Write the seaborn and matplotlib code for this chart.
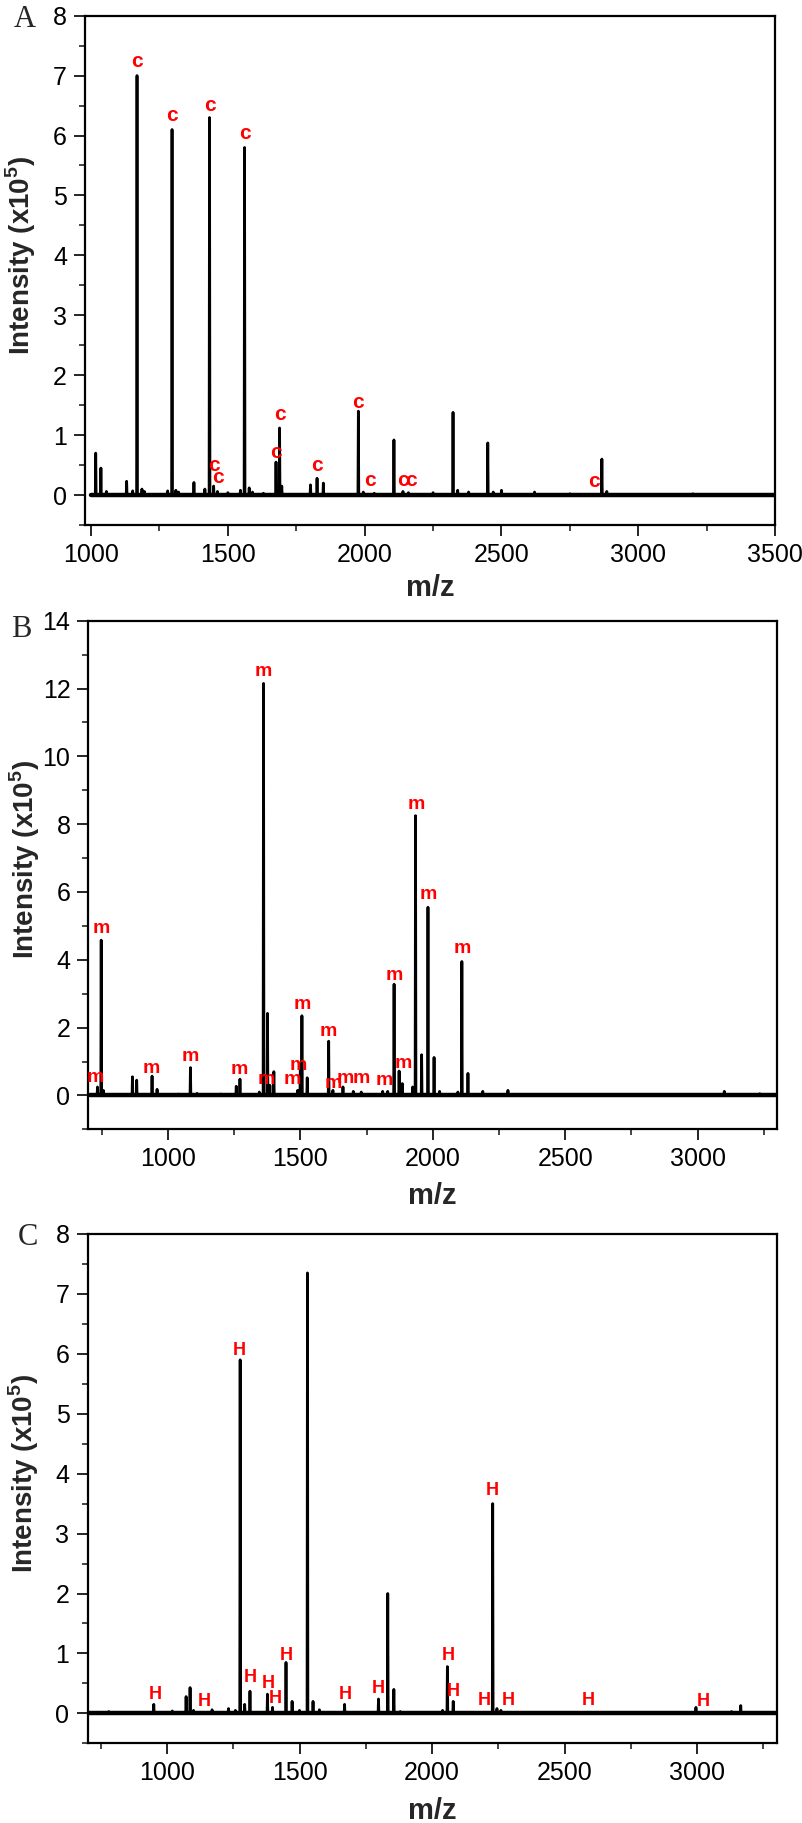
import seaborn as sns
import matplotlib.pyplot as plt
import pandas as pd
from matplotlib.ticker import MultipleLocator

# ---- data (m/z, intensity x1e5) ----
a_mz = [1017, 1036, 1056, 1130, 1152, 1168, 1186, 1195, 1280, 1296, 1310, 1320,
        1376, 1416, 1433, 1448, 1462, 1500, 1546, 1561, 1578, 1590, 1630, 1676,
        1689, 1697, 1802, 1826, 1849, 1977, 1995, 2035, 2107, 2140, 2160, 2250,
        2323, 2340, 2380, 2450, 2470, 2500, 2621, 2750, 2867, 2885, 3200]
a_int = [0.70, 0.45, 0.06, 0.23, 0.07, 7.00, 0.10, 0.06, 0.07, 6.10, 0.08, 0.05,
         0.21, 0.10, 6.30, 0.15, 0.06, 0.04, 0.08, 5.80, 0.12, 0.05, 0.03, 0.55,
         1.12, 0.15, 0.17, 0.28, 0.20, 1.40, 0.05, 0.03, 0.92, 0.06, 0.04, 0.04,
         1.38, 0.08, 0.05, 0.87, 0.05, 0.08, 0.05, 0.02, 0.60, 0.06, 0.02]
a_lab_mz = [1168, 1296, 1433, 1561, 1448, 1465, 1676, 1689, 1826, 1977, 2018,
            2141, 2169, 2837]
a_lab_y = [7.07, 6.17, 6.34, 5.87, 0.34, 0.13, 0.55, 1.18, 0.34, 1.39, 0.09,
           0.09, 0.09, 0.07]

b_mz = [734, 748, 756, 866, 882, 940, 959, 1040, 1085, 1110, 1200, 1258, 1272,
        1345, 1361, 1376, 1385, 1400, 1490, 1500, 1506, 1526, 1607, 1623, 1661,
        1700, 1730, 1811, 1830, 1854, 1873, 1885, 1924, 1935, 1958, 1982, 2005,
        2026, 2095, 2110, 2133, 2189, 2284, 3101, 3235]
b_int = [0.25, 4.58, 0.15, 0.55, 0.45, 0.57, 0.18, 0.04, 0.82, 0.06, 0.04, 0.27,
         0.48, 0.10, 12.15, 2.42, 0.30, 0.70, 0.15, 0.95, 2.35, 0.52, 1.60, 0.15,
         0.25, 0.12, 0.10, 0.12, 0.12, 3.28, 0.72, 0.35, 0.25, 8.25, 1.20, 5.55,
         1.12, 0.12, 0.10, 3.95, 0.65, 0.12, 0.15, 0.12, 0.05]
b_lab_mz = [725, 750, 938, 1085, 1270, 1361, 1370, 1471, 1493, 1506, 1607, 1623,
            1669, 1731, 1817, 1854, 1888, 1937, 1983, 2112]
b_lab_y = [0.28, 4.68, 0.54, 0.89, 0.52, 12.25, 0.23, 0.23, 0.62, 2.44, 1.63,
           0.10, 0.25, 0.25, 0.20, 3.30, 0.69, 8.33, 5.69, 4.07]

c_mz = [780, 950, 1020, 1072, 1087, 1100, 1170, 1232, 1258, 1276, 1293, 1313,
        1379, 1398, 1449, 1472, 1500, 1530, 1551, 1575, 1670, 1798, 1833, 1856,
        1880, 2040, 2058, 2080, 2229, 2245, 2260, 2996, 3130, 3165]
c_int = [0.03, 0.15, 0.04, 0.28, 0.43, 0.05, 0.06, 0.08, 0.05, 5.90, 0.15, 0.37,
         0.32, 0.10, 0.85, 0.20, 0.05, 7.35, 0.20, 0.06, 0.15, 0.24, 2.00, 0.40,
         0.03, 0.05, 0.78, 0.20, 3.50, 0.08, 0.05, 0.10, 0.03, 0.13]
c_lab_mz = [955, 1142, 1274, 1315, 1381, 1408, 1449, 1672, 1796, 2062, 2082,
            2198, 2229, 2287, 2588, 3025]
c_lab_y = [0.17, 0.06, 5.91, 0.46, 0.35, 0.11, 0.82, 0.17, 0.27, 0.83, 0.22,
           0.07, 3.58, 0.07, 0.07, 0.06]

sns.set_theme(style='ticks')
plt.rcParams['font.family'] = ['Liberation Sans', 'DejaVu Sans']
plt.rcParams['mathtext.fontset'] = 'custom'
plt.rcParams['mathtext.rm'] = 'Liberation Sans'
plt.rcParams['mathtext.bf'] = 'Liberation Sans:bold'


def stick_frame(mz, inten, start, end):
    xs, ys = [start], [0.0]
    for m, h in zip(mz, inten):
        xs += [m - 1.5, m, m + 1.5]
        ys += [0.0, h, 0.0]
    xs.append(end)
    ys.append(0.0)
    return pd.DataFrame({'mz': xs, 'intensity': ys})


fig = plt.figure(figsize=(8.03, 18.23), dpi=100)

panels = [
    # letter, data, labels, tag, axes rect, xlim, ylim, y major/minor, baseline span,
    # xlabel y, letter position (px), tag size
    ('A', a_mz, a_int, a_lab_mz, a_lab_y, 'c', [0.1059, 0.7120, 0.8593, 0.2794],
     (978, 3500), (-0.5, 8), 1, 0.5, (1000, 3500), -0.097, (14, 27), 15),
    ('B', b_mz, b_int, b_lab_mz, b_lab_y, 'm', [0.1102, 0.3805, 0.8574, 0.2790],
     (700, 3300), (-1, 14), 2, 1, (705, 3300), -0.104, (11, 637), 14),
    ('C', c_mz, c_int, c_lab_mz, c_lab_y, 'H', [0.1090, 0.0437, 0.8580, 0.2794],
     (700, 3300), (-0.5, 8), 1, 0.5, (700, 3300), -0.105, (18, 1245), 13),
]

for (letter, mz, inten, lab_mz, lab_y, tag, rect, xlim, ylim, ymaj, ymin,
     span, xlab_y, letter_pos, tag_size) in panels:
    ax = fig.add_axes(rect)
    df = stick_frame(mz, inten, span[0], span[1])
    sns.lineplot(data=df, x='mz', y='intensity', sort=False, estimator=None,
                 color='black', linewidth=2.0, ax=ax)
    base = pd.DataFrame({'mz': list(span), 'intensity': [0, 0]})
    sns.lineplot(data=base, x='mz', y='intensity', sort=False, estimator=None,
                 color='black', linewidth=3.2, ax=ax)

    for m, y in zip(lab_mz, lab_y):
        ax.text(m, y, tag, color='red', fontsize=tag_size, fontweight='bold',
                ha='center', va='bottom')

    ax.set_xlim(*xlim)
    ax.set_ylim(*ylim)
    ax.xaxis.set_major_locator(MultipleLocator(500))
    ax.xaxis.set_minor_locator(MultipleLocator(250))
    ax.yaxis.set_major_locator(MultipleLocator(ymaj))
    ax.yaxis.set_minor_locator(MultipleLocator(ymin))
    ax.tick_params(which='major', direction='out', length=8, width=1.2,
                   labelsize=18, pad=5, colors='black')
    ax.tick_params(which='minor', direction='out', length=4.5, width=1.2)
    for s in ax.spines.values():
        s.set_visible(True)
        s.set_linewidth(1.6)
        s.set_color('black')

    ax.set_xlabel('m/z', fontsize=21, fontweight='bold')
    ax.set_ylabel(r'Intensity (x10$^{\mathbf{5}}$)', fontsize=20,
                  fontweight='bold')
    ax.xaxis.set_label_coords(0.5, xlab_y)
    ax.yaxis.set_label_coords(-0.068, 0.53)

    fig.text(letter_pos[0] / 803, 1 - letter_pos[1] / 1823, letter,
             family=['Liberation Serif', 'DejaVu Serif'], fontsize=22,
             va='baseline', ha='left')

fig.savefig('out.png', dpi=100)
